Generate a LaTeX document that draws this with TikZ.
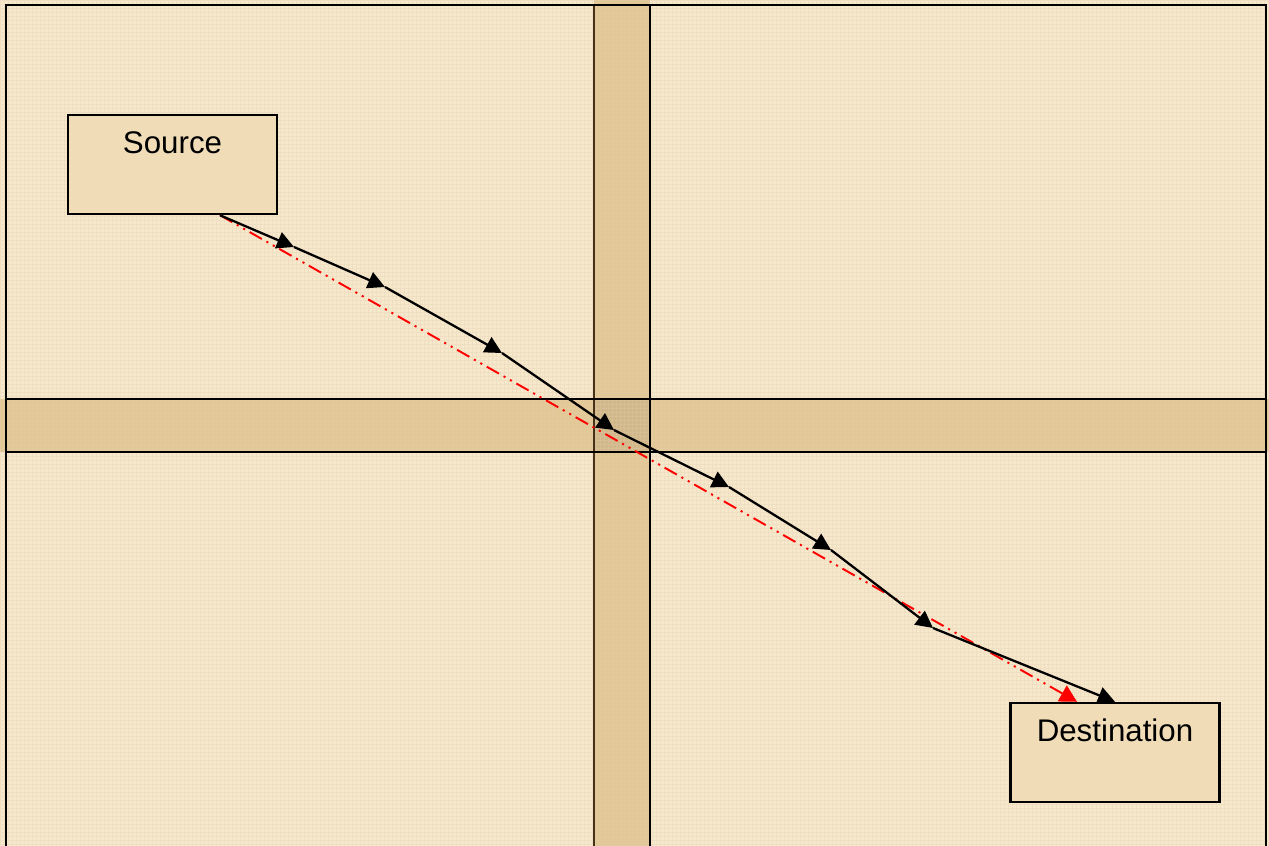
\documentclass[tikz,border=0pt]{standalone}
\usepackage{fontspec}
\setmainfont{Liberation Sans}
\usepackage{tikz}
\usetikzlibrary{arrows.meta,positioning,calc}

\definecolor{paper}{RGB}{246,232,203}
\definecolor{band}{RGB}{226,200,148}
\definecolor{boxfill}{RGB}{240,221,184}
\definecolor{bandedge}{RGB}{70,50,25}

\begin{document}
\begin{tikzpicture}[
x=0.02cm,y=-0.02cm,
box/.style={draw,line width=1.4pt,fill=boxfill,minimum width=4.18cm,minimum height=1.98cm,inner sep=0pt},
lbl/.style={font=\fontsize{17.8}{20}\selectfont,anchor=base},
hop/.style={line width=1.3pt,-{Triangle[length=3.4mm,width=3.4mm]}},
direct/.style={red,line width=1.1pt,dash pattern=on 8pt off 3pt on 1.2pt off 3pt on 1.2pt off 3pt,-{Triangle[length=3.4mm,width=3.6mm]}}
]
% page and frame
\fill[paper] (0,0) rectangle (1269,846);
\useasboundingbox (0,0) rectangle (1269,846);
\fill[band] (594,0) rectangle (650,846);
\fill[band] (0,399) rectangle (1269,452);
\fill[band!85!black,opacity=0.5] (594,399) rectangle (650,452);
\draw[brown!40,opacity=0.35,line width=0.3pt,step=0.08cm] (0,0) grid (1269,846);
\draw[bandedge,line width=0.9pt] (594,5) -- (594,846);
\draw[line width=1.2pt] (650,5) -- (650,846);
\draw[line width=1.1pt] (6,399) -- (1266,399);
\draw[line width=1.1pt] (6,452) -- (1266,452);
\draw[line width=1.5pt] (6,846) -- (6,5) -- (1266,5) -- (1266,846);

% end boxes
\node[box,label={[lbl,yshift=-0.79cm]north:Source}] (src) at (172.5,164.5) {};
\node[box,label={[lbl,yshift=-0.80cm]north:Destination}] (dst) at (1115,752.5) {};

% hops
\coordinate (s0) at ([xshift=0.95cm]src.south);
\coordinate (p1) at (294,247);
\coordinate (p2) at (385,287);
\coordinate (p3) at (502,353);
\coordinate (p4) at (614,430);
\coordinate (p5) at (729,487);
\coordinate (p6) at (831,550);
\coordinate (p7) at (933,628);
\coordinate (d0) at ([xshift=0cm]dst.north);
\coordinate (d1) at ([xshift=-0.76cm]dst.north);

\draw[direct] (s0) -- (d1);
\draw[hop] (s0) -- (p1);
\draw[hop] (p1) -- (p2);
\draw[hop] (p2) -- (p3);
\draw[hop] (p3) -- (p4);
\draw[hop] (p4) -- (p5);
\draw[hop] (p5) -- (p6);
\draw[hop] (p6) -- (p7);
\draw[hop] (p7) -- (d0);
\end{tikzpicture}
\end{document}
